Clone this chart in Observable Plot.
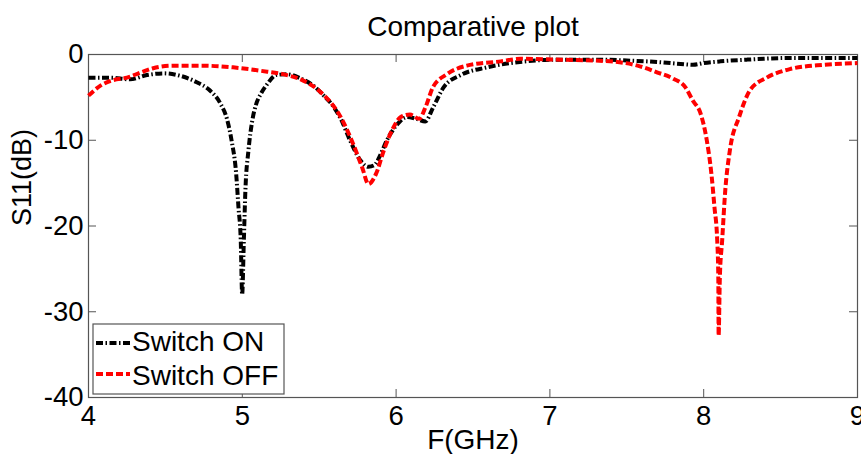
<!DOCTYPE html>
<html>
<head>
<meta charset="utf-8">
<script src="https://cdn.jsdelivr.net/npm/d3@7"></script>
<script src="https://cdn.jsdelivr.net/npm/@observablehq/plot@0.6"></script>
<style>
  html, body { margin: 0; padding: 0; background: white; }
  #chart { width: 861px; height: 454px; }
</style>
</head>
<body>
<div id="chart"></div>
<script>
// ---- Data ----
const chartTitle = "Comparative plot";
const xLabel = "F(GHz)";
const yLabel = "S11(dB)";
const seriesNames = ["Switch ON", "Switch OFF"];
const xTicks = [4, 5, 6, 7, 8, 9];
const yTicks = [0, -10, -20, -30, -40];

const onF = [4.00, 4.14, 4.27, 4.38, 4.49, 4.60, 4.70, 4.79, 4.86, 4.90, 4.93, 4.96, 4.975, 4.99, 4.999, 5.01, 5.02, 5.04, 5.065, 5.09, 5.12, 5.16, 5.22, 5.29, 5.38, 5.46, 5.53, 5.59, 5.64, 5.70, 5.77, 5.82, 5.86, 5.89, 5.94, 6.01, 6.07, 6.13, 6.19, 6.24, 6.31, 6.42, 6.59, 6.79, 7.07, 7.30, 7.50, 7.72, 7.85, 7.93, 8.00, 8.11, 8.28, 8.58, 9.00];
const onS = [-2.7, -2.7, -2.9, -2.4, -2.2, -2.5, -3.2, -4.2, -5.8, -7.5, -10.0, -13.9, -17.8, -21.7, -28.0, -21.7, -15.9, -11.2, -7.7, -5.8, -4.6, -3.5, -2.4, -2.3, -2.8, -3.6, -4.8, -6.0, -7.5, -10.0, -12.4, -13.1, -12.9, -12.0, -10.0, -8.1, -7.3, -7.5, -7.8, -6.2, -3.8, -2.4, -1.5, -0.9, -0.6, -0.6, -0.7, -0.9, -1.1, -1.2, -1.0, -0.8, -0.6, -0.4, -0.4];

const offF = [4.00, 4.08, 4.16, 4.25, 4.34, 4.42, 4.55, 4.73, 4.94, 5.12, 5.29, 5.38, 5.51, 5.64, 5.72, 5.78, 5.82, 5.87, 5.92, 5.98, 6.03, 6.09, 6.15, 6.19, 6.24, 6.33, 6.46, 6.68, 6.81, 7.07, 7.39, 7.57, 7.70, 7.80, 7.88, 7.93, 7.98, 8.02, 8.05, 8.07, 8.088, 8.095, 8.097, 8.105, 8.12, 8.14, 8.17, 8.23, 8.30, 8.41, 8.56, 8.78, 9.00];
const offS = [-4.8, -3.6, -3.0, -2.7, -2.1, -1.6, -1.3, -1.3, -1.5, -1.9, -2.4, -2.9, -4.4, -7.3, -10.4, -13.2, -15.1, -13.9, -11.2, -8.6, -7.3, -7.0, -7.5, -6.2, -3.8, -2.3, -1.3, -0.8, -0.5, -0.6, -0.8, -1.3, -2.1, -2.8, -3.8, -5.4, -6.9, -10.0, -13.9, -17.8, -21.7, -26.0, -32.8, -26.0, -21.7, -15.9, -11.2, -7.3, -4.2, -2.7, -1.7, -1.2, -1.0];

// ---- Build tables ----
const onData = onF.map((f, i) => ({f, s: onS[i]}));
const offData = offF.map((f, i) => ({f, s: offS[i]}));

const W = 861, H = 454;
const mL = 88, mR = 4, mT = 54, mB = 57;
const plotW = W - mL - mR, plotH = H - mT - mB;
const axisColor = "#555";
const font = "'Liberation Sans', Arial, sans-serif";

const chart = Plot.plot({
  width: W,
  height: H,
  marginLeft: mL,
  marginRight: mR,
  marginTop: mT,
  marginBottom: mB,
  style: {fontFamily: font, background: "white", color: "black", overflow: "visible"},
  x: {domain: [4, 9], label: null},
  y: {domain: [-40, 0], label: null},
  marks: [
    Plot.frame({stroke: axisColor, strokeWidth: 1.2}),
    // inward ticks on all four sides
    Plot.ruleX(xTicks, {stroke: axisColor, insetBottom: plotH - 8}),
    Plot.ruleX(xTicks, {stroke: axisColor, insetTop: plotH - 8}),
    Plot.ruleY(yTicks, {stroke: axisColor, insetRight: plotW - 8}),
    Plot.ruleY(yTicks, {stroke: axisColor, insetLeft: plotW - 8}),
    Plot.axisX({ticks: xTicks, tickSize: 0, tickPadding: 8, fontSize: 27.5, tickFormat: d => String(d), label: null, fill: "black"}),
    Plot.axisY({ticks: yTicks, tickSize: 0, tickPadding: 5, fontSize: 27.5, tickFormat: d => String(d), label: null, fill: "black"}),
    Plot.line(onData, {x: "f", y: "s", stroke: "black", strokeWidth: 4, strokeDasharray: "7,2.5,1.5,2.5", strokeLinecap: "butt", curve: "monotone-x"}),
    Plot.line(offData, {x: "f", y: "s", stroke: "#ff0000", strokeWidth: 4, strokeDasharray: "7,3", strokeLinecap: "butt", curve: "monotone-x"}),
    Plot.text([chartTitle], {frameAnchor: "top", lineAnchor: "bottom", dy: -19, fontSize: 28, fill: "black"}),
    Plot.text([xLabel], {frameAnchor: "bottom", lineAnchor: "bottom", dy: 51, fontSize: 28, fill: "black"}),
    Plot.text([yLabel], {frameAnchor: "left", lineAnchor: "middle", rotate: -90, dx: -66, fontSize: 27, fill: "black"})
  ]
});

document.getElementById("chart").appendChild(chart);

// ---- Legend (drawn inside the plot area, lower-left) ----
const svg = d3.select(chart);
const lg = svg.append("g").attr("font-family", font).attr("font-size", 28).attr("text-anchor", "start");
lg.append("rect").attr("x", 93).attr("y", 324).attr("width", 191).attr("height", 70)
  .attr("fill", "white").attr("stroke", axisColor).attr("stroke-width", 1.2);
const legendItems = [
  {name: seriesNames[0], stroke: "black", dash: "7,2.5,1.5,2.5", ly: 343, ty: 351},
  {name: seriesNames[1], stroke: "#ff0000", dash: "7,3", ly: 374, ty: 385}
];
legendItems.forEach(it => {
  lg.append("line").attr("x1", 96).attr("x2", 130).attr("y1", it.ly).attr("y2", it.ly)
    .attr("stroke", it.stroke).attr("stroke-width", 4).attr("stroke-dasharray", it.dash);
  lg.append("text").attr("x", 132).attr("y", it.ty).attr("fill", "black")
    .attr("text-anchor", "start").text(it.name);
});
</script>
</body>
</html>
